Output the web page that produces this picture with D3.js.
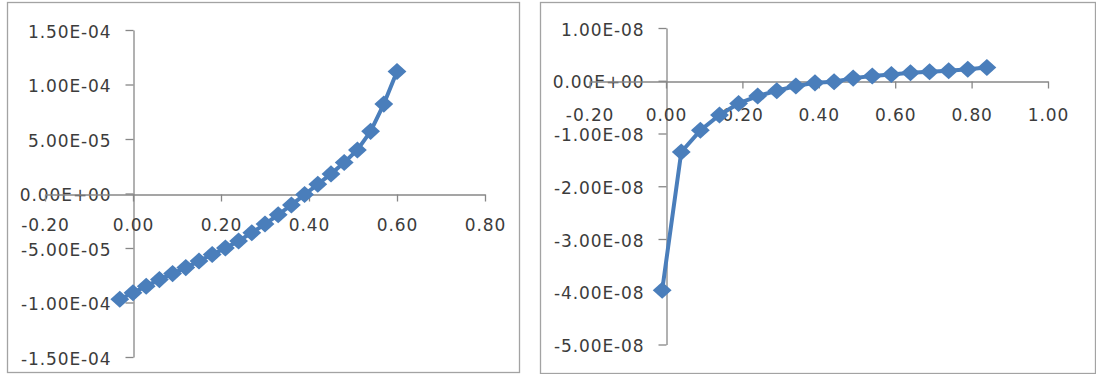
<!DOCTYPE html>
<html>
<head>
<meta charset="utf-8">
<script src="https://cdn.jsdelivr.net/npm/d3@7"></script>
<style>
  html, body { margin: 0; padding: 0; background: #ffffff; }
  svg { display: block; }
  .tick text { font-family: "DejaVu Sans", sans-serif; font-size: 17px; letter-spacing: 0.9px; fill: #3c3c3c; }
</style>
</head>
<body>
<svg id="chart" width="1096" height="374"></svg>
<script>
// Left panel: a sweep from -0.03 to 0.60 in steps of 0.03
const leftX = [-0.03, 0.00, 0.03, 0.06, 0.09, 0.12, 0.15, 0.18, 0.21, 0.24, 0.27,
               0.30, 0.33, 0.36, 0.39, 0.42, 0.45, 0.48, 0.51, 0.54, 0.57, 0.60];
const leftY = [-9.7e-5, -9.1e-5, -8.5e-5, -7.9e-5, -7.35e-5, -6.8e-5, -6.2e-5, -5.6e-5,
               -5.0e-5, -4.35e-5, -3.6e-5, -2.8e-5, -1.95e-5, -1.05e-5, -0.1e-5, 0.85e-5,
               1.8e-5, 2.85e-5, 4.0e-5, 5.7e-5, 8.2e-5, 11.2e-5];
const leftXTicks = [-0.2, 0.0, 0.2, 0.4, 0.6, 0.8];
const leftYTicks = [-1.5e-4, -1.0e-4, -5.0e-5, 0, 5.0e-5, 1.0e-4, 1.5e-4];

// Right panel
const rightX = [-0.01, 0.04, 0.09, 0.14, 0.19, 0.24, 0.29, 0.34, 0.39, 0.44,
                0.49, 0.54, 0.59, 0.64, 0.69, 0.74, 0.79, 0.84];
const rightY = [-3.97e-8, -1.35e-8, -0.94e-8, -0.65e-8, -0.43e-8, -0.29e-8, -0.19e-8,
                -0.10e-8, -0.04e-8, -0.02e-8, 0.05e-8, 0.09e-8, 0.12e-8, 0.15e-8,
                0.17e-8, 0.19e-8, 0.22e-8, 0.25e-8];
const rightXTicks = [-0.2, 0.0, 0.2, 0.4, 0.6, 0.8, 1.0];
const rightYTicks = [-5e-8, -4e-8, -3e-8, -2e-8, -1e-8, 0, 1e-8];

const seriesColor = "#4a7ebb";
const axisColor = "#878787";
const frameColor = "#a3a3a3";

// Excel-style scientific label: 1.50E-04, 0.00E+00
function sci(v) {
  if (v === 0) return "0.00E+00";
  const s = v.toExponential(2).toUpperCase();      // e.g. "1.50E-4"
  return s.replace(/E([+-])(\d+)$/, (m, sign, d) => "E" + sign + d.padStart(2, "0"));
}

const svg = d3.select("#chart");

const panels = [
  {
    frame: [7, 2, 512, 370],
    xs: leftX, ys: leftY,
    xDomain: [-0.2, 0.8], xRange: [45, 485],
    yDomain: [-1.5e-4, 1.5e-4], yRange: [357, 30],
    xTicks: leftXTicks, yTicks: leftYTicks,
    xLabelOffset: 17
  },
  {
    frame: [540, 2, 555, 371],
    xs: rightX, ys: rightY,
    xDomain: [-0.2, 1.0], xRange: [589.6, 1048],
    yDomain: [-5e-8, 1e-8], yRange: [344.5, 28],
    xTicks: rightXTicks, yTicks: rightYTicks,
    xLabelOffset: 20
  }
];

panels.forEach(p => {
  const g = svg.append("g");

  g.append("rect")
    .attr("x", p.frame[0] + 0.5).attr("y", p.frame[1] + 0.5)
    .attr("width", p.frame[2]).attr("height", p.frame[3])
    .attr("fill", "#ffffff")
    .attr("stroke", frameColor).attr("stroke-width", 1.3);

  const x = d3.scaleLinear().domain(p.xDomain).range(p.xRange);
  const y = d3.scaleLinear().domain(p.yDomain).range(p.yRange);

  // Vertical axis crosses at x = 0
  const yAxis = g.append("g")
    .attr("transform", `translate(${Math.round(x(0)) + 0.5},0)`)
    .call(d3.axisLeft(y).tickValues(p.yTicks).tickFormat(sci)
      .tickSizeInner(8).tickSizeOuter(0).tickPadding(14));

  // Horizontal axis crosses at y = 0
  const xAxis = g.append("g")
    .attr("transform", `translate(0,${Math.round(y(0)) + 0.5})`)
    .call(d3.axisBottom(x).tickValues(p.xTicks).tickFormat(d3.format(".2f"))
      .tickSizeInner(7).tickSizeOuter(0).tickPadding(p.xLabelOffset));

  [xAxis, yAxis].forEach(a => {
    a.select(".domain").attr("stroke", axisColor).attr("stroke-width", 1.3);
    a.selectAll(".tick line").attr("stroke", axisColor).attr("stroke-width", 1.3);
  });
  yAxis.selectAll(".tick text").attr("dy", "0.42em");
  xAxis.selectAll(".tick text").text(d => d3.format(".2f")(d).replace("−", "-"));
  yAxis.selectAll(".tick text").text(d => sci(d));

  const pts = p.xs.map((v, i) => [v, p.ys[i]]);

  g.append("path")
    .datum(pts)
    .attr("fill", "none")
    .attr("stroke", seriesColor)
    .attr("stroke-width", 4)
    .attr("stroke-linejoin", "round")
    .attr("d", d3.line().x(d => x(d[0])).y(d => y(d[1])));

  g.selectAll("path.marker")
    .data(pts)
    .enter().append("path")
    .attr("class", "marker")
    .attr("fill", seriesColor)
    .attr("d", d3.symbol().type(d3.symbolDiamond2).size(205))
    .attr("transform", d => `translate(${x(d[0])},${y(d[1])}) scale(1.05,0.95)`);
});
</script>
</body>
</html>
